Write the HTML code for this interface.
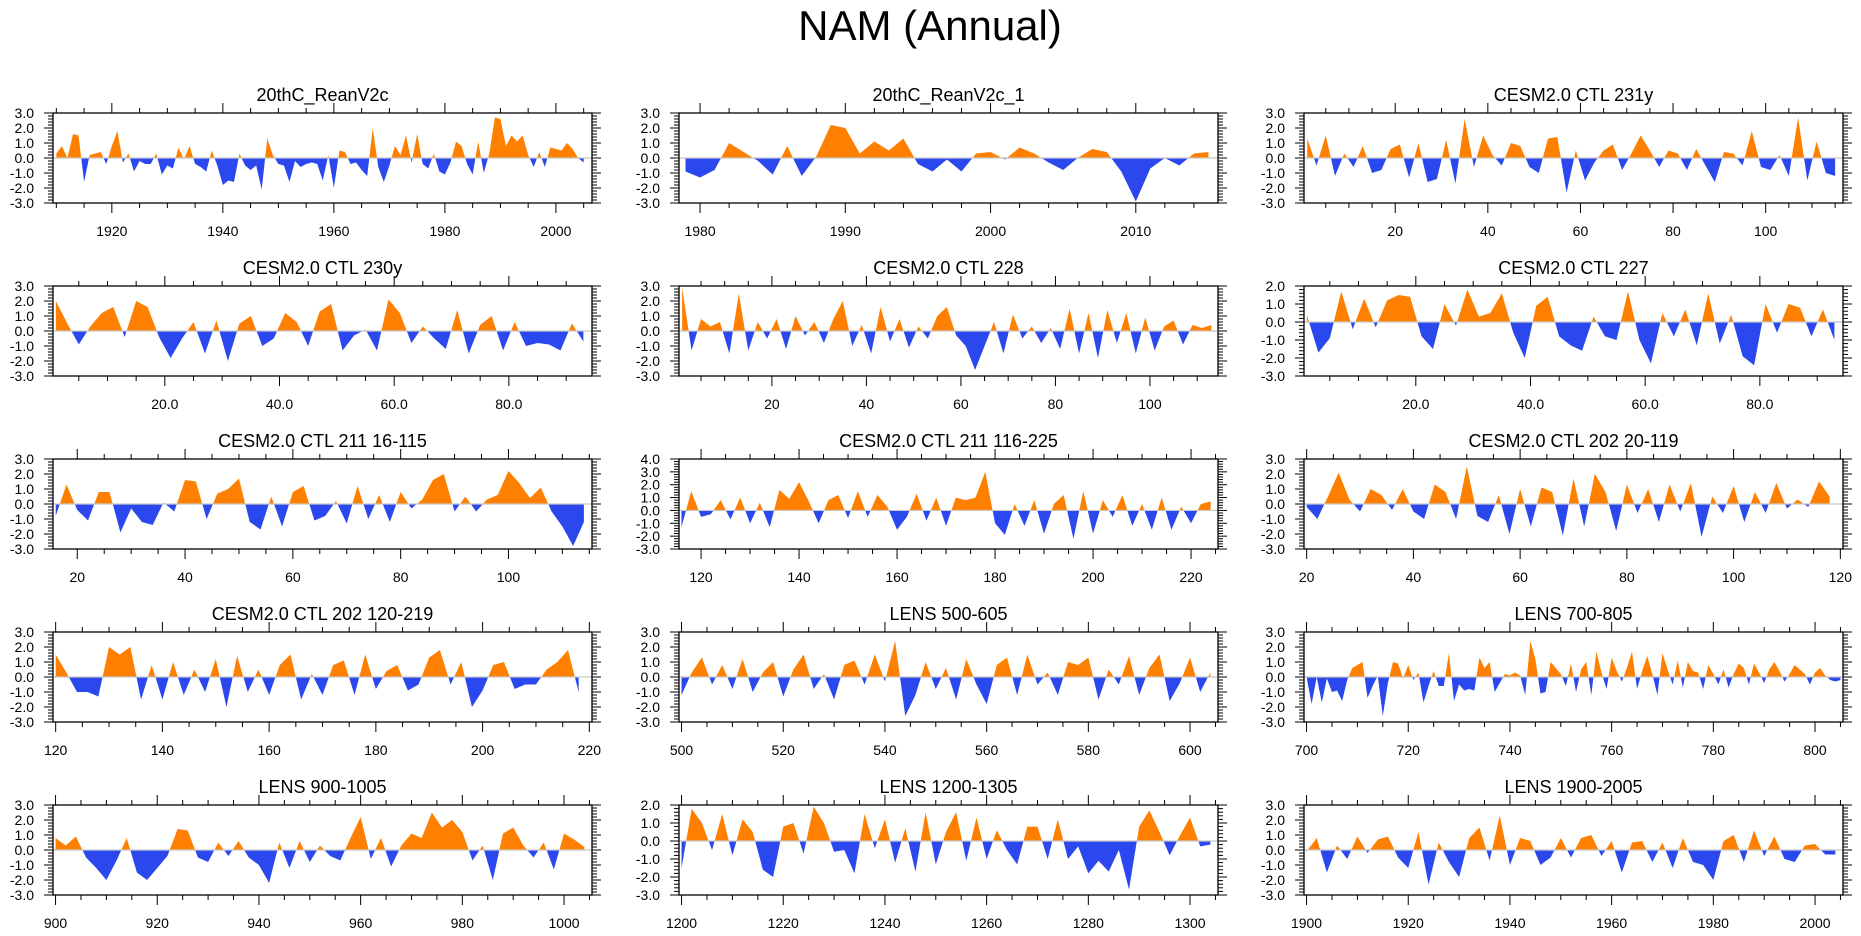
<!DOCTYPE html>
<html><head><meta charset="utf-8"><style>
html,body{margin:0;padding:0;background:#fff;}
svg{display:block;font-family:"Liberation Sans",Arial,sans-serif;}
</style></head><body>
<svg id="chart" width="1861" height="936" viewBox="0 0 1861 936">
<text x="930" y="40" font-size="42" text-anchor="middle">NAM (Annual)</text>
</svg>
<script>
const titles = ["20thC_ReanV2c","20thC_ReanV2c_1","CESM2.0 CTL 231y","CESM2.0 CTL 230y","CESM2.0 CTL 228","CESM2.0 CTL 227","CESM2.0 CTL 211 16-115","CESM2.0 CTL 211 116-225","CESM2.0 CTL 202 20-119","CESM2.0 CTL 202 120-219","LENS 500-605","LENS 700-805","LENS 900-1005","LENS 1200-1305","LENS 1900-2005"];
const xStarts = [1910,1979,1,1,1,1,16,116,20,120,500,700,900,1200,1900];
const xSteps  = [1,1,2,2,2,2,2,2,2,2,2,1,2,2,2];
const xMins = [1909.4,1978.55,0.3,0.5,0.34,0.5,15.5,115.5,19.5,119.5,499.5,699.5,899.5,1199.5,1899.5];
const xMaxs = [2006.5,2015.66,116.7,94.5,114.4,94.5,115.5,225.5,120.5,220.5,605.5,805.5,1005.5,1305.5,2005.5];
const yMins = [-3,-3,-3,-3,-3,-3,-3,-3,-3,-3,-3,-3,-3,-3,-3];
const yMaxs = [3,3,3,3,3,2,3,4,3,3,3,3,3,2,3];
const tickStarts = [1920,1980,20,20,20,20,20,120,20,120,500,700,900,1200,1900];
const tickEnds = [2000,2010,100,80,100,80,100,220,120,220,600,800,1000,1300,2000];
const tickSteps = [20,10,20,20,20,20,20,20,20,20,20,20,20,20,20];
const minorSteps = [5,2,5,5,5,5,5,5,5,5,5,5,5,5,5];
const tickDecimals = [0,0,0,1,0,1,0,0,0,0,0,0,0,0,0];

const s1 = [0.3,0.8,0.0,1.6,1.5,-1.6,0.2,0.3,0.4,-0.4,0.8,1.8,-0.3,0.3,-0.9,-0.2,-0.4,-0.4,0.3,-1.1,-0.5,-0.7,0.7,-0.1,0.8,-0.4,-0.6,-0.9,0.5,-0.5,-1.8,-1.5,-1.6,0.3,-0.5,-0.8,-0.5,-2.1,1.3,0.2,-0.4,-0.5,-1.6,-0.2,-0.6,-0.4,-0.3,-0.4,-1.5,0.2,-2.0,0.5,0.4,-0.4,-0.3,-0.8,-1.2,2.0,-0.6,-1.6,-0.5,0.8,0.2,1.5,-0.3,1.6,-0.4,-0.7,0.3,-0.9,-1.1,-0.3,1.1,0.8,-0.4,-1.1,1.1,-1.0,0.3,2.7,2.6,0.8,1.5,1.1,1.5,0.2,-0.6,0.4,-0.6,0.7,0.6,0.5,1.0,0.6,0.0,-0.3];
const s2 = [-0.9,-1.3,-0.8,1.0,0.4,-0.2,-1.1,0.8,-1.2,0.1,2.2,2.0,0.3,1.1,0.5,1.3,-0.4,-0.9,-0.1,-0.9,0.3,0.4,-0.1,0.7,0.3,-0.3,-0.8,0.0,0.6,0.4,-0.9,-2.9,-0.7,0.0,-0.5,0.3,0.4];
const s3 = [1.3,-0.5,1.5,-1.2,0.3,-0.6,0.8,-1.0,-0.8,0.6,0.9,-1.3,1.0,-1.6,-1.4,1.2,-1.7,2.6,-0.6,1.5,0.2,-0.5,1.0,0.8,-0.6,-1.0,1.3,1.4,-2.3,0.5,-1.5,-0.3,0.5,0.9,-0.8,0.3,1.5,0.5,-0.6,0.5,0.3,-0.8,0.6,-0.5,-1.6,0.4,0.3,-0.5,1.8,-0.6,-0.8,0.2,-1.2,2.7,-1.5,1.1,-1.0,-1.2];
const s4 = [2.0,0.5,-0.9,0.3,1.2,1.6,-0.4,2.0,1.6,-0.4,-1.8,-0.5,0.6,-1.5,0.7,-2.0,0.5,1.0,-1.0,-0.5,1.2,0.6,-1.0,1.3,1.8,-1.3,-0.3,0.1,-1.3,2.1,1.2,-0.8,0.3,-0.5,-1.2,1.4,-1.5,0.4,1.0,-1.3,0.6,-1.0,-0.8,-0.9,-1.3,0.5,-0.7];
const s5 = [2.9,-1.3,0.8,0.3,0.6,-1.5,2.5,-1.3,0.6,-0.5,0.8,-1.2,1.0,-0.3,0.6,-0.8,0.8,2.0,-1.0,0.4,-1.5,1.6,-0.7,0.8,-1.1,0.3,-0.5,1.0,1.6,-0.3,-1.0,-2.6,-1.0,0.6,-1.5,1.1,-0.5,0.3,-0.8,0.2,-1.2,1.5,-1.5,1.2,-1.8,1.4,-0.8,1.2,-1.5,0.9,-1.3,0.3,0.7,-0.9,0.4,0.2,0.4];
const s6 = [0.4,-1.7,-0.9,1.7,-0.4,1.3,-0.3,1.2,1.5,1.4,-0.8,-1.5,1.0,-0.2,1.8,0.3,0.5,1.6,-0.6,-2.0,0.9,1.4,-0.8,-1.3,-1.6,0.3,-0.8,-1.0,1.7,-1.0,-2.3,0.5,-0.8,0.7,-1.3,1.6,-1.2,0.4,-1.9,-2.4,1.0,-0.6,1.0,0.8,-0.8,0.7,-1.0];
const s7 = [-0.8,1.3,-0.4,-1.1,0.8,0.8,-1.9,-0.3,-1.2,-1.4,0.1,-0.5,1.6,1.5,-1.0,0.7,1.0,1.7,-1.2,-1.7,0.5,-1.5,0.8,1.2,-1.1,-0.8,0.2,-1.3,1.2,-1.0,0.6,-1.2,0.8,-0.3,0.3,1.6,2.0,-0.5,0.5,-0.5,0.3,0.6,2.2,1.4,0.4,1.1,-0.5,-1.5,-2.8,-1.2];
const s8 = [-1.3,1.5,-0.5,-0.3,0.8,-0.7,1.0,-1.0,0.6,-1.3,1.6,0.9,2.2,0.7,-1.0,0.8,1.2,-0.6,1.5,-0.5,1.2,0.3,-1.5,-0.5,1.3,-0.8,1.0,-1.2,1.0,0.8,1.0,3.0,-1.0,-1.9,0.5,-1.2,0.8,-1.8,0.5,1.2,-2.2,1.5,-1.8,0.8,-0.5,1.2,-1.2,0.5,-1.5,1.0,-1.5,0.3,-1.0,0.5,0.7];
const s9 = [-0.2,-1.0,0.5,2.1,0.3,-0.5,1.0,0.6,-0.4,1.0,-0.5,-1.0,1.3,0.8,-1.0,2.5,-0.8,-1.2,0.6,-2.0,1.0,-1.5,1.1,0.8,-2.1,1.7,-1.5,2.0,0.8,-1.8,1.3,-0.6,1.0,-1.2,1.3,-0.5,1.4,-2.2,0.5,-0.6,1.2,-1.2,0.8,-0.6,1.4,-0.3,0.3,-0.2,1.5,0.5];
const s10 = [1.5,0.3,-1.0,-1.0,-1.3,2.0,1.5,2.0,-1.5,0.8,-1.5,1.0,-1.2,0.5,-1.0,1.2,-2.0,1.4,-1.0,0.5,-1.2,0.8,1.5,-1.5,0.2,-1.2,0.8,1.1,-1.2,1.5,-0.8,0.4,0.8,-0.9,-0.5,1.3,1.8,-0.5,1.0,-2.0,-0.9,0.8,1.0,-0.8,-0.5,-0.5,0.5,1.0,1.8,-1.0];
const s11 = [-1.2,0.3,1.3,-0.5,0.8,-0.8,1.2,-1.0,0.3,1.0,-1.3,0.5,1.5,-0.8,0.2,-1.5,0.8,1.1,-0.5,1.5,-0.3,2.4,-2.6,-1.2,1.0,-0.8,0.6,-1.5,1.2,-0.5,-1.8,0.8,1.3,-1.2,1.5,-0.5,0.3,-1.2,1.0,0.8,1.3,-1.5,0.5,-0.5,1.4,-1.2,0.6,1.5,-1.6,-0.4,1.3,-1.0,0.3];
const s12 = [0,-1.8,0,-1.7,-0.1,-1.0,-0.9,-1.6,-0.2,0.6,0.8,1.0,-1.4,-0.6,0.1,-2.6,-0.4,1.0,0.9,-0.1,0.8,-0.2,0.3,-1.7,-0.6,0.4,-0.6,-0.6,1.6,-1.6,-0.5,-0.9,-0.8,-0.9,1.3,0.6,1.0,-1.0,-0.4,0.2,0.1,0.3,0.1,-1.2,2.4,1.2,-1.1,-1.0,1.0,0.6,0.2,-0.6,0.9,-1.0,0.5,1.0,-1.2,1.7,0.3,-0.8,1.3,0.4,-0.3,0.6,1.7,-0.8,0.4,1.4,0.2,-1.2,1.6,0.5,-0.5,1.1,-0.7,1.0,0.4,0.3,-0.8,0.8,0.2,-0.5,0.5,-0.7,0.2,0.9,0.6,-0.5,0.9,0.3,-0.4,0.5,1.0,0.4,-0.3,0.2,0.8,0.5,0.2,-0.5,0.3,0.6,0.1,-0.2,-0.3,-0.2];
const s13 = [0.8,0.3,0.9,-0.5,-1.2,-2.0,-0.7,0.8,-1.5,-2.0,-1.2,-0.4,1.4,1.3,-0.5,-0.8,0.5,-0.4,0.6,-0.5,-1.0,-2.2,0.5,-1.2,0.6,-0.8,0.3,-0.4,-0.7,0.8,2.2,-0.6,0.8,-1.1,0.3,1.1,0.8,2.5,1.5,2.0,1.2,-0.7,0.3,-2.0,1.1,1.5,0.3,-0.5,0.5,-1.3,1.1,0.7,0.2];
const s14 = [-1.5,1.8,1.0,-0.5,1.5,-0.8,1.2,0.5,-1.6,-2.0,0.8,1.0,-0.7,1.9,1.0,-0.6,-0.5,-1.8,1.5,-0.4,1.2,-1.2,0.7,-1.7,1.6,-1.3,0.5,1.6,-1.1,1.3,-1.0,0.6,-0.5,-1.3,0.8,0.8,-1.0,1.2,-1.0,-0.3,-1.8,-1.1,-1.7,-0.5,-2.7,0.8,1.7,0.5,-0.8,0.3,1.3,-0.3,-0.2];
const s15 = [-0.1,0.8,-1.5,0.3,-0.6,0.9,-0.2,0.7,0.9,-0.5,-1.2,1.2,-2.3,0.5,-0.8,-1.8,0.8,1.5,-0.7,2.3,-1.0,0.8,0.6,-1.0,-0.5,0.8,-0.5,0.8,1.0,-0.4,0.6,-1.5,0.5,0.6,-0.8,0.5,-1.2,0.8,-0.8,-1.0,-2.0,0.6,1.0,-0.8,1.3,-0.4,0.9,-0.6,-0.8,0.3,0.4,-0.3,-0.3];
const seriesList = [s1,s2,s3,s4,s5,s6,s7,s8,s9,s10,s11,s12,s13,s14,s15];

const NS = "http://www.w3.org/2000/svg";
const svg = document.getElementById('chart');
const colLeft = [53,679,1304], rowTop = [113,286,459,632,805];
const PW = 539, PH = 90;
function mk(tag, attrs, parent){ const e=document.createElementNS(NS,tag); for(const k in attrs) e.setAttribute(k,attrs[k]); parent.appendChild(e); return e; }

for (let p=0;p<15;p++){
  const L = colLeft[p%3], T = rowTop[Math.floor(p/3)], R=L+PW, B=T+PH;
  const xmin=xMins[p], xmax=xMaxs[p], ymin=yMins[p], ymax=yMaxs[p];
  const sx = v => L + (v-xmin)/(xmax-xmin)*PW;
  const sy = v => B - (v-ymin)/(ymax-ymin)*PH;
  const g = mk('g',{},svg);
  
  
  const tt = mk('text',{x:(L+R)/2,y:T-12,'font-size':18,'text-anchor':'middle'},g);
  tt.textContent = titles[p];
  
  
  // clip paths
  const defs = mk('defs',{},g);
  const y0 = sy(0);
  const cpA = mk('clipPath',{id:'ca'+p},defs); mk('rect',{x:L,y:T,width:PW,height:y0-T},cpA);
  const cpB = mk('clipPath',{id:'cb'+p},defs); mk('rect',{x:L,y:y0,width:PW,height:B-y0},cpB);
  const vals = seriesList[p];
  let pts = sx(xStarts[p]).toFixed(2)+','+y0.toFixed(2)+' ';
  let last = xStarts[p];
  vals.forEach((v,i)=>{ const x = xStarts[p]+i*xSteps[p]; last=x; pts += sx(x).toFixed(2)+','+sy(v).toFixed(2)+' '; });
  pts += sx(last).toFixed(2)+','+y0.toFixed(2);
  const pa = mk('polygon',{points:pts,fill:'#ff8000','clip-path':'url(#ca'+p+')'},g);
  
  
  const pb = mk('polygon',{points:pts,fill:'#2b48ee','clip-path':'url(#cb'+p+')'},g);
  
  
  const zl = mk('line',{x1:L,x2:R,y1:y0,y2:y0,stroke:'#c8c8c8','stroke-width':1.2},g);
  
  
  const fr = mk('rect',{x:L,y:T,width:PW,height:PH,fill:'none',stroke:'#000','stroke-width':1.3},g);
  
  
  // y ticks
  for (let k=Math.round(ymin*5); k<=Math.round(ymax*5); k++){
    const v=k/5, y=sy(v), major = (k%5===0), len = major?9:5;
    mk('line',{x1:L-len,x2:L,y1:y,y2:y,stroke:'#000','stroke-width':1},g);
    mk('line',{x1:R,x2:R+len,y1:y,y2:y,stroke:'#000','stroke-width':1},g);
    if (major){
      const t = mk('text',{x:L-19,y:y+5,'font-size':14,'text-anchor':'end'},g);
      t.textContent = v.toFixed(1);
      
      
    }
  }
  // x ticks
  const ms = minorSteps[p];
  for (let v=Math.ceil(xmin/ms)*ms; v<=xmax; v+=ms){
    const x=sx(v), major = ((v - tickStarts[p]) % tickSteps[p] === 0), len = major?10:5;
    mk('line',{x1:x,x2:x,y1:B,y2:B+len,stroke:'#000','stroke-width':1},g);
    mk('line',{x1:x,x2:x,y1:T-len,y2:T,stroke:'#000','stroke-width':1},g);
  }
  for (let v=tickStarts[p]; v<=tickEnds[p]; v+=tickSteps[p]){
    const t = mk('text',{x:sx(v),y:B+33,'font-size':14,'text-anchor':'middle'},g);
    t.textContent = v.toFixed(tickDecimals[p]);
    
    
  }
}
</script>
</body></html>
